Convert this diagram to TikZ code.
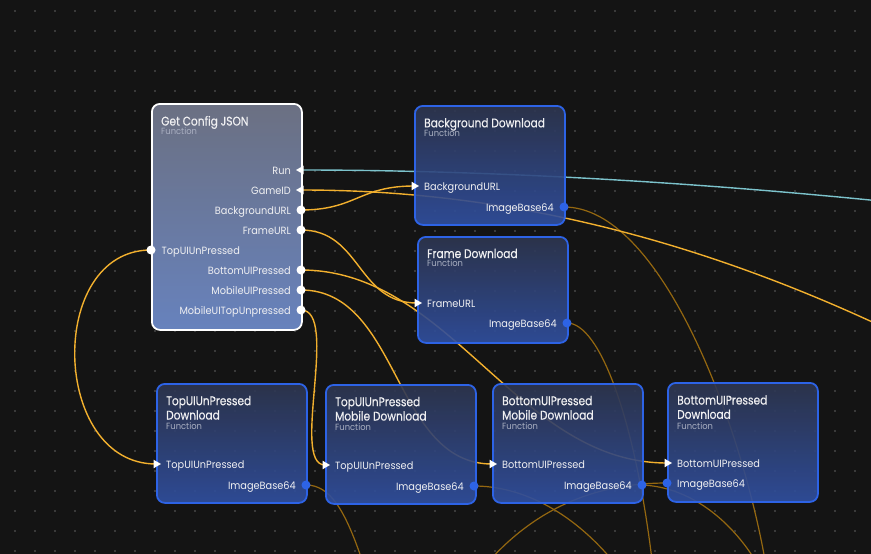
\documentclass[tikz,border=0pt]{standalone}
\usepackage{fontspec}
\setmainfont{Poppins}
\newfontfamily\uititle{Poppins}[FakeStretch=0.85,FakeBold=0.3]
\newfontfamily\uilabel{Poppins}[FakeStretch=0.93]
\usetikzlibrary{shapes.geometric}
\definecolor{bgcol}{HTML}{141414}
\definecolor{griddot}{HTML}{3A3A3A}
\definecolor{nodeblue}{HTML}{2D63E6}
\definecolor{blueTop}{HTML}{2E3650}
\definecolor{blueBot}{HTML}{3050A2}
\definecolor{grayTop}{HTML}{6B7082}
\definecolor{grayBot}{HTML}{6782BD}
\definecolor{wirebright}{HTML}{F2B02E}
\definecolor{wiredim}{HTML}{946710}
\definecolor{wirecyan}{HTML}{7CC3CC}
\definecolor{txtwhite}{HTML}{F0F0F2}
\definecolor{fngray}{HTML}{AAB0C2}
\begin{document}
\begin{tikzpicture}[x=1pt,y=-1pt,
  boxwhite/.style={draw=white, line width=1.8pt, rounded corners=8pt, top color=grayTop, bottom color=grayBot, anchor=north west, minimum width=150pt, inner sep=0pt},
  boxblue/.style={draw=nodeblue, line width=1.8pt, rounded corners=8pt, top color=blueTop, bottom color=blueBot, fill opacity=0.9, anchor=north west, minimum width=150pt, inner sep=0pt},
  ttl/.style={text=txtwhite, font=\uititle\fontsize{12.5}{14.3}\selectfont, anchor=base west, inner sep=0pt, align=left},
  fn/.style={text=fngray, font=\uilabel\fontsize{9}{10}\selectfont, anchor=base west, inner sep=0pt},
  plabelR/.style={text=txtwhite, font=\uilabel\fontsize{10.5}{12}\selectfont, anchor=base east, inner sep=0pt},
  plabelL/.style={text=txtwhite, font=\uilabel\fontsize{10.5}{12}\selectfont, anchor=base west, inner sep=0pt},
  outdot/.style={circle, fill=white, minimum size=9pt, inner sep=0pt},
  bluedot/.style={circle, fill=nodeblue, minimum size=9pt, inner sep=0pt},
  inarrowR/.style={regular polygon, regular polygon sides=3, shape border rotate=-90, fill=white, minimum size=10pt, inner sep=0pt},
  inarrowL/.style={regular polygon, regular polygon sides=3, shape border rotate=90, fill=white, minimum size=10pt, inner sep=0pt},
  wireB/.style={draw=wirebright, line width=1.4pt},
  wireD/.style={draw=wiredim, line width=1.2pt},
  wireC/.style={draw=wirecyan, line width=1.4pt}]
\useasboundingbox (0,0) rectangle (871,554);
\fill[bgcol] (0,0) rectangle (871,554);
\foreach \i in {0,...,42}{\foreach \j in {0,...,27}{\fill[griddot] (14+20*\i,10+20*\j) rectangle ++(2,2);}}
% port coordinates
\coordinate (gcRun) at (301,170);
\coordinate (gcGame) at (301,190);
\coordinate (gcBG) at (301,210);
\coordinate (gcFrame) at (301,230);
\coordinate (gcTop) at (151,250);
\coordinate (gcBottom) at (301,270);
\coordinate (gcMobile) at (301,290);
\coordinate (gcMobileTop) at (301,310);
\coordinate (bdIn) at (414,186);
\coordinate (bdOut) at (564,207);
\coordinate (fdIn) at (417,303);
\coordinate (fdOut) at (567,323);
\coordinate (tdIn) at (156,464);
\coordinate (tdOut) at (306,485);
\coordinate (tmIn) at (325,465);
\coordinate (tmOut) at (474,486);
\coordinate (bmIn) at (492,464);
\coordinate (bmOut) at (642,485);
\coordinate (bpIn) at (667,463);
\coordinate (bpImg) at (667,483);
\coordinate (offA) at (765,560);
\coordinate (offB) at (652,560);
\coordinate (offC) at (362,560);
\coordinate (offD) at (612,560);
\coordinate (offE) at (490,560);
\coordinate (offF) at (755,560);
\coordinate (offRun) at (880,201);
\coordinate (offGame) at (900,335);
% wires
\begin{scope}
\clip (0,0) rectangle (871,554);
\path[wireD] (bdOut) .. controls (660,207) and (740,420) .. (offA);
\path[wireD] (fdOut) .. controls (600,323) and (635,420) .. (offB);
\path[wireD] (tdOut) .. controls (330,485) and (345,510) .. (offC);
\path[wireD] (tmOut) .. controls (520,486) and (570,510) .. (offD);
\path[wireD] (offE) .. controls (540,505) and (600,483) .. (bpImg);
\path[wireD] (bmOut) .. controls (690,487) and (730,520) .. (offF);
\path[wireC] (gcRun) .. controls (450,170) and (650,178) .. (offRun);
\path[wireB] (gcGame) .. controls (450,190) and (650,215) .. (offGame);
\path[wireB] (gcBG) .. controls +(55,0) and +(-55,0) .. (bdIn);
\path[wireB] (gcFrame) .. controls +(60,0) and +(-60,0) .. (fdIn);
\path[wireB] (gcBottom) .. controls +(150,0) and +(-150,0) .. (bpIn);
\path[wireB] (gcMobile) .. controls +(99,0) and +(-99,0) .. (bmIn);
\path[wireB] (gcMobileTop) .. controls +(39,0) and +(-35,0) .. (tmIn);
\path[wireB] (gcTop) .. controls +(-105,0) and +(-105,0) .. (tdIn);
\end{scope}
% node boxes
\node[boxwhite, minimum height=226pt] (gc) at (151,103) {};
\node[boxblue, minimum height=119pt] (bd) at (414,105) {};
\node[boxblue, minimum height=106pt] (fd) at (417,236) {};
\node[boxblue, minimum height=119pt] (td) at (156,383) {};
\node[boxblue, minimum height=119pt] (tm) at (325,384) {};
\node[boxblue, minimum height=119pt] (bm) at (492,383) {};
\node[boxblue, minimum height=119pt] (bp) at (667,382) {};
% Get Config JSON texts
\node[ttl] (gcT) at (161,125.5) {Get Config JSON};
\node[fn] (gcF) at (161,134.3) {Function};
\node[plabelR] (gcL1) at (291,174) {Run};
\node[plabelR] (gcL2) at (291,194) {GameID};
\node[plabelR] (gcL3) at (291,214) {BackgroundURL};
\node[plabelR] (gcL4) at (291,234) {FrameURL};
\node[plabelL] (gcL5) at (161.5,254) {TopUIUnPressed};
\node[plabelR] (gcL6) at (291,274) {BottomUIPressed};
\node[plabelR] (gcL7) at (291,294) {MobileUIPressed};
\node[plabelR] (gcL8) at (291,314) {MobileUITopUnpressed};
% Background Download
\node[ttl] (bdT) at (424,127.3) {Background Download};
\node[fn] (bdF) at (424,136.3) {Function};
\node[plabelL] (bdL1) at (424,190) {BackgroundURL};
\node[plabelR] (bdL2) at (554,211) {ImageBase64};
% Frame Download
\node[ttl] (fdT) at (427,258) {Frame Download};
\node[fn] (fdF) at (427,266.7) {Function};
\node[plabelL] (fdL1) at (427,307) {FrameURL};
\node[plabelR] (fdL2) at (557,327) {ImageBase64};
% TopUIUnPressed Download
\node[ttl] (tdT) at (166,419.5) {TopUIUnPressed\\Download};
\node[fn] (tdF) at (166,429.8) {Function};
\node[plabelL] (tdL1) at (166,468) {TopUIUnPressed};
\node[plabelR] (tdL2) at (296,489) {ImageBase64};
% TopUIUnPressed Mobile Download
\node[ttl] (tmT) at (335,420.5) {TopUIUnPressed\\Mobile Download};
\node[fn] (tmF) at (335,430.8) {Function};
\node[plabelL] (tmL1) at (335,469) {TopUIUnPressed};
\node[plabelR] (tmL2) at (464,490) {ImageBase64};
% BottomUIPressed Mobile Download
\node[ttl] (bmT) at (502,419.5) {BottomUIPressed\\Mobile Download};
\node[fn] (bmF) at (502,429.8) {Function};
\node[plabelL] (bmL1) at (502,468) {BottomUIPressed};
\node[plabelR] (bmL2) at (632,489) {ImageBase64};
% BottomUIPressed Download
\node[ttl] (bpT) at (677,418.8) {BottomUIPressed\\Download};
\node[fn] (bpF) at (677,429) {Function};
\node[plabelL] (bpL1) at (677,467) {BottomUIPressed};
\node[plabelL] (bpL2) at (677,487) {ImageBase64};
% port markers
\node[inarrowL] (mRun) at (gcRun) {};
\node[inarrowL] (mGame) at (gcGame) {};
\node[outdot] (mBG) at (gcBG) {};
\node[outdot] (mFrame) at (gcFrame) {};
\node[outdot] (mTop) at (gcTop) {};
\node[outdot] (mBottom) at (gcBottom) {};
\node[outdot] (mMobile) at (gcMobile) {};
\node[outdot] (mMobileTop) at (gcMobileTop) {};
\node[inarrowR] (mbdIn) at (bdIn) {};
\node[bluedot] (mbdOut) at (bdOut) {};
\node[inarrowR] (mfdIn) at (fdIn) {};
\node[bluedot] (mfdOut) at (fdOut) {};
\node[inarrowR] (mtdIn) at (tdIn) {};
\node[bluedot] (mtdOut) at (tdOut) {};
\node[inarrowR] (mtmIn) at (tmIn) {};
\node[bluedot] (mtmOut) at (tmOut) {};
\node[inarrowR] (mbmIn) at (bmIn) {};
\node[bluedot] (mbmOut) at (bmOut) {};
\node[inarrowR] (mbpIn) at (bpIn) {};
\node[bluedot] (mbpImg) at (bpImg) {};
\end{tikzpicture}
\end{document}
